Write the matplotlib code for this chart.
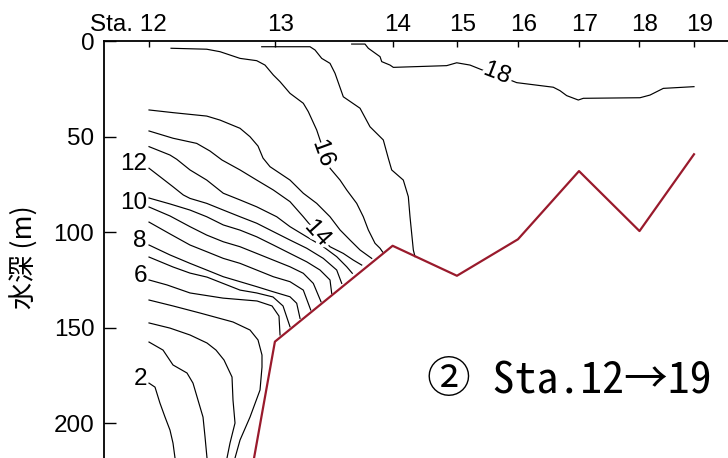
import matplotlib.pyplot as plt
import matplotlib.patheffects as pe
import matplotlib.transforms as mtransforms

plt.rcParams['font.family'] = ['Liberation Sans', 'DejaVu Sans']

# 観測点 (距離 km) と海底水深 (m)
stations = ['Sta. 12', '13', '14', '15', '16', '17', '18', '19']
station_km = [0.0, 23.1, 44.7, 56.5, 67.7, 78.9, 90.0, 100.0]
bottom_m = [525, 157.4, 107.2, 122.9, 103.8, 68.1, 99.5, 59.3]

# 等温線 (℃) : 距離 km, 水深 m
t2_km = [0.0, 1.1, 2.0, 2.94, 3.85, 4.4, 4.77]
t2_m = [179.1, 181.2, 189.5, 196.9, 203.7, 210.5, 218.3]
t3_km = [0.0, 2.57, 4.4, 6.97, 8.07, 8.99, 9.91, 10.28, 10.64]
t3_m = [157.6, 161.8, 169.6, 173.8, 179.1, 188.0, 196.9, 207.3, 218.3]
t4_km = [0.0, 3.85, 7.52, 10.64, 12.29, 13.76, 15.23, 15.41, 15.78, 14.86, 14.31]
t4_m = [147.6, 150.3, 153.9, 158.1, 161.8, 167.0, 175.9, 188.0, 200.0, 210.5, 218.3]
t5_km = [0.0, 4.4, 9.36, 15.41, 18.53, 20.0, 20.73, 20.73, 20.37, 18.53, 16.70, 15.78]
t5_m = [135.6, 138.7, 142.4, 147.1, 151.3, 156.5, 164.4, 170.7, 182.7, 196.9, 208.9, 218.3]
t6_km = [0.0, 3.3, 7.52, 13.58, 19.82, 22.57, 23.85, 24.04]
t6_m = [125.1, 127.7, 131.9, 134.6, 136.1, 138.7, 144.0, 153.9]
t7_km = [0.0, 4.4, 7.52, 10.64, 16.70, 19.76, 22.75, 24.59, 25.87]
t7_m = [113.1, 118.3, 121.5, 123.6, 130.4, 131.9, 134.0, 138.7, 149.6]
t8_km = [0.0, 3.85, 7.52, 10.59, 13.63, 16.70, 19.76, 22.81, 25.87, 27.10, 27.71]
t8_m = [106.8, 112.0, 116.4, 119.9, 123.4, 126.0, 128.6, 131.3, 133.9, 137.3, 145.2]
t9_km = [0.0, 3.85, 7.52, 10.59, 13.63, 16.70, 19.76, 22.81, 25.87, 28.31, 29.67]
t9_m = [94.8, 101.0, 106.8, 110.3, 113.8, 116.4, 119.9, 123.4, 126.0, 130.4, 140.8]
t10_km = [0.0, 3.85, 7.52, 10.59, 13.63, 16.70, 19.76, 22.81, 25.87, 28.31, 30.15, 31.56]
t10_m = [86.9, 91.6, 97.2, 101.6, 105.1, 107.7, 111.2, 114.7, 118.2, 121.6, 126.9, 136.5]
t11_km = [0.0, 3.85, 7.52, 10.59, 13.63, 16.70, 19.76, 22.81, 25.87, 28.94, 31.38, 33.21, 33.52]
t11_m = [82.2, 85.3, 88.5, 92.0, 96.3, 99.0, 102.5, 106.8, 111.2, 115.6, 119.9, 125.1, 132.1]
t12_km = [0.0, 2.0, 4.4, 6.29, 7.52, 10.59, 13.63, 16.70, 19.76, 22.81, 25.87, 28.94, 31.98, 34.44, 35.36]
t12_m = [66.6, 71.0, 76.3, 80.6, 82.4, 85.0, 88.5, 92.0, 95.4, 99.8, 104.2, 108.5, 113.8, 119.9, 126.9]
t13_km = [0.0, 3.85, 5.08, 7.52, 10.59, 13.63, 16.70, 19.76, 23.43, 25.87, 28.94, 31.98, 34.44, 36.28, 37.30]
t13_m = [55.3, 59.7, 61.9, 67.5, 72.8, 79.7, 83.2, 86.8, 92.0, 97.2, 102.5, 107.7, 112.9, 118.2, 121.6]
t14_km = [0.0, 4.4, 8.75, 11.19, 13.39, 16.70, 19.76, 22.81, 25.87, 28.31, 30.64, 33.21, 35.65, 37.49, 39.03]
t14_m = [47.1, 50.9, 53.6, 57.6, 62.3, 67.5, 72.8, 78.0, 84.1, 92.0, 100.0, 107.7, 111.2, 114.7, 117.3]
t15_km = [0.0, 4.4, 10.59, 13.03, 16.70, 18.53, 20.0, 20.92, 22.2, 25.87, 28.31, 30.77, 33.21, 35.05, 36.88, 38.72, 40.86]
t15_m = [36.1, 37.5, 39.3, 41.4, 45.7, 50.1, 55.0, 61.3, 65.8, 72.8, 79.7, 85.0, 92.0, 98.9, 104.2, 109.4, 113.8]
t16_km = [4.04, 10.59, 13.03, 16.70, 19.76, 21.28, 22.81, 24.04, 25.87, 28.31, 29.23, 30.77, 31.38,
          33.21, 35.05, 36.28, 38.11, 39.32, 40.24, 41.47, 42.39, 42.88]
t16_m = [3.8, 4.3, 5.6, 9.1, 10.3, 12.6, 17.8, 21.3, 27.4, 32.6, 37.0, 46.6, 51.8,
         66.6, 72.8, 78.0, 85.0, 92.0, 98.9, 105.9, 108.5, 110.5]
t17_km = [20.68, 29.54, 30.46, 31.69, 33.21, 34.13, 35.65, 38.72, 40.55, 42.99, 43.91, 44.53, 46.66,
          47.58, 47.89, 48.50, 48.81]
t17_m = [3.0, 3.0, 4.7, 9.1, 11.7, 16.9, 29.2, 35.2, 44.9, 51.8, 61.4, 67.5, 72.8,
         81.5, 92.0, 109.4, 112.9]
t18_km = [37.19, 39.63, 40.24, 42.39, 42.70, 44.22, 44.83, 54.62, 56.46, 58.90, 61.96, 66.24, 67.47,
          74.18, 75.41, 76.64, 78.77, 79.69, 90.09, 91.93, 94.37, 100.0]
t18_m = [1.6, 1.6, 3.8, 8.2, 10.8, 12.6, 13.8, 12.9, 11.4, 12.6, 16.1, 20.4, 21.8,
         24.2, 26.0, 28.6, 30.9, 30.0, 29.7, 28.3, 24.8, 23.9]

isotherms = [
    (2, t2_km, t2_m), (3, t3_km, t3_m), (4, t4_km, t4_m), (5, t5_km, t5_m),
    (6, t6_km, t6_m), (7, t7_km, t7_m), (8, t8_km, t8_m), (9, t9_km, t9_m),
    (10, t10_km, t10_m), (11, t11_km, t11_m), (12, t12_km, t12_m), (13, t13_km, t13_m),
    (14, t14_km, t14_m), (15, t15_km, t15_m), (16, t16_km, t16_m), (17, t17_km, t17_m),
    (18, t18_km, t18_m),
]

# 左端に付けるラベル / 線上に付けるラベル (位置 km, m, 角度)
edge_labels = [2, 6, 8, 10, 12]
inline_labels = [(14, 31.0, 100.5, -48), (16, 32.1, 58.6, -70), (18, 63.9, 16.8, -21)]

fig = plt.figure(figsize=(7.28, 4.58), dpi=100)
ax = fig.add_axes([104 / 728, 0, 624 / 728, 417 / 458])

for level, xs, zs in isotherms:
    ax.plot(xs, zs, color='black', lw=0.85, zorder=2)
    if level in edge_labels:
        ax.text(xs[0] - 0.4, zs[0] - 2.2, str(level), ha='right', va='center', fontsize=17.5)

halo = [pe.withStroke(linewidth=5, foreground='white')]
for level, x, z, rot in inline_labels:
    ax.text(x, z, str(level), rotation=rot, rotation_mode='anchor', ha='center', va='center',
            fontsize=17.5, path_effects=halo, zorder=4)

# 海底
ax.plot(station_km, bottom_m, color='#991A2C', lw=1.6, zorder=3)

ax.set_xlim(-8.26, 106.24)
ax.set_ylim(218.3, 0)
ax.set_yticks([0, 50, 100, 150, 200])
ax.set_xticks(station_km)
ax.set_xticklabels(stations)
ax.xaxis.tick_top()

for side in ['right', 'bottom']:
    ax.spines[side].set_visible(False)
for side in ['left', 'top']:
    ax.spines[side].set_linewidth(1.3)

ax.tick_params(axis='x', direction='in', length=4, width=1, pad=3.5, labelsize=17.5)
ax.tick_params(axis='y', direction='in', length=8.5, width=1, pad=7, labelsize=17.5)

shift = mtransforms.ScaledTranslation(5.5 / 100, 0, fig.dpi_scale_trans)
labels = ax.get_xticklabels()
for lab in labels[1:]:
    lab.set_transform(lab.get_transform() + shift)
labels[0].set_horizontalalignment('right')
labels[0].set_transform(labels[0].get_transform() + mtransforms.ScaledTranslation(18 / 100, 0, fig.dpi_scale_trans))

ax.set_ylabel('水深 (m)', family=['Noto Sans CJK JP', 'DejaVu Sans'], fontsize=19.5)
ax.yaxis.set_label_coords(-0.105, 0.482)

ax.text(0.518, 0.156, '② Sta.12→19', transform=ax.transAxes, ha='left', va='baseline',
        fontsize=31.5, family=['Noto Sans Mono CJK JP', 'Noto Sans CJK JP', 'DejaVu Sans'])

fig.savefig('out.png', dpi=100)
